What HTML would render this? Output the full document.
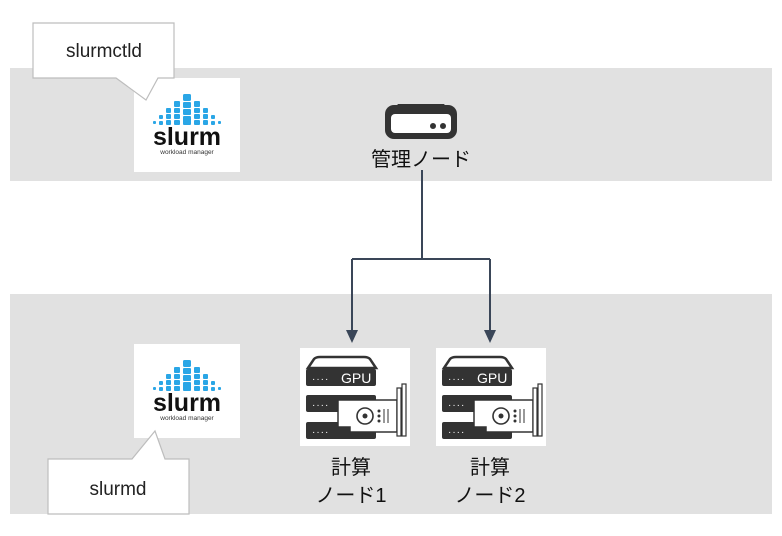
<!DOCTYPE html>
<html><head><meta charset="utf-8"><style>
html,body{margin:0;padding:0;background:#fff;}
svg{display:block;}
text{font-family:"Liberation Sans","Noto Sans CJK JP",sans-serif;}
</style></head><body>
<svg width="782" height="536" viewBox="0 0 782 536" xmlns="http://www.w3.org/2000/svg">
<defs>
<g id="logo">
  <rect x="0" y="0" width="106" height="94" fill="#fff"/>
  <g fill="#2aa6e6">
    <rect x="19" y="43" width="3" height="3" rx="1"/>
    <rect x="84" y="43" width="3" height="3" rx="1"/>
    <rect x="25" y="37" width="4" height="4" rx="1"/><rect x="25" y="43" width="4" height="4" rx="1"/>
    <rect x="77" y="37" width="4" height="4" rx="1"/><rect x="77" y="43" width="4" height="4" rx="1"/>
    <rect x="32" y="30" width="5" height="5" rx="1"/><rect x="32" y="36" width="5" height="5" rx="1"/><rect x="32" y="42" width="5" height="5" rx="1"/>
    <rect x="69" y="30" width="5" height="5" rx="1"/><rect x="69" y="36" width="5" height="5" rx="1"/><rect x="69" y="42" width="5" height="5" rx="1"/>
    <rect x="40" y="23" width="6" height="6" rx="1"/><rect x="40" y="30" width="6" height="5" rx="1"/><rect x="40" y="36" width="6" height="5" rx="1"/><rect x="40" y="42" width="6" height="5" rx="1"/>
    <rect x="60" y="23" width="6" height="6" rx="1"/><rect x="60" y="30" width="6" height="5" rx="1"/><rect x="60" y="36" width="6" height="5" rx="1"/><rect x="60" y="42" width="6" height="5" rx="1"/>
    <rect x="49" y="16" width="8" height="7" rx="1.5"/><rect x="49" y="24" width="8" height="6" rx="1"/><rect x="49" y="31" width="8" height="6" rx="1"/><rect x="49" y="38" width="8" height="9" rx="1"/>
  </g>
  <text x="53" y="67" font-size="25" font-weight="bold" text-anchor="middle" fill="#111">slurm</text>
  <text x="53" y="76" font-size="6.5" text-anchor="middle" fill="#333">workload manager</text>
</g>
<g id="gpu">
  <rect x="0" y="0" width="110" height="98" fill="#fff"/>
  <path d="M8 20 L14 11 Q16 9 20 9 L64 9 Q68 9 70 11 L76 20 Z" fill="#fff" stroke="#333" stroke-width="2.5"/>
  <rect x="6" y="21" width="70" height="17" rx="2" fill="#333"/>
  <text x="12" y="34" font-size="10" fill="#fff" letter-spacing="1">····</text>
  <text x="41" y="35" font-size="14" fill="#fff">GPU</text>
  <rect x="6" y="47" width="70" height="17" rx="2" fill="#333"/>
  <text x="12" y="60" font-size="10" fill="#fff" letter-spacing="1">····</text>
  <rect x="6" y="74" width="70" height="17" rx="2" fill="#333"/>
  <text x="12" y="87" font-size="10" fill="#fff" letter-spacing="1">····</text>
  <path d="M38 52 L97 52 L97 84 L50 84 L50 79 L38 79 Z" fill="#fff" stroke="#333" stroke-width="1.5"/>
  <rect x="97" y="40" width="4" height="48" fill="#fff" stroke="#333" stroke-width="1.2"/>
  <rect x="102" y="36" width="4" height="52" fill="#fff" stroke="#333" stroke-width="1.2"/>
  <circle cx="65" cy="68" r="8" fill="#fff" stroke="#333" stroke-width="1.6"/>
  <circle cx="65" cy="68" r="2.5" fill="#333"/>
  <circle cx="79" cy="63" r="1.5" fill="#333"/><circle cx="79" cy="68" r="1.5" fill="#333"/><circle cx="79" cy="73" r="1.5" fill="#333"/>
  <path d="M84 61 v14 M88 61 v14" stroke="#333" stroke-width="1"/>
</g>
</defs>
<rect x="10" y="68" width="762" height="113" fill="#e1e1e1"/>
<rect x="10" y="294" width="762" height="220" fill="#e1e1e1"/>
<use href="#logo" x="134" y="78"/>
<use href="#logo" x="134" y="344"/>
<path d="M33 23 H174 V78 H158 L146 100 L116 78 H33 Z" fill="#fff" stroke="#bdbdbd" stroke-width="1.2"/>
<text x="104" y="57" font-size="19" text-anchor="middle" fill="#222">slurmctld</text>
<path d="M48 459 H132 L155 431 L165 459 H189 V514 H48 Z" fill="#fff" stroke="#bdbdbd" stroke-width="1.2"/>
<text x="118" y="495" font-size="19" text-anchor="middle" fill="#222">slurmd</text>
<rect x="385" y="105" width="72" height="34" rx="9" fill="#333"/>
<path d="M388 116 L398 104 L444 104 L454 116 Z" fill="#333"/>
<rect x="391" y="114" width="60" height="19" rx="4" fill="#fff"/>
<circle cx="433" cy="126" r="3" fill="#333"/><circle cx="443" cy="126" r="3" fill="#333"/>
<text x="421" y="166" font-size="20" text-anchor="middle" fill="#111">管理ノード</text>
<path d="M422 170 V259 M352 259 H490 M352 259 V332 M490 259 V332" stroke="#3a4658" stroke-width="2" fill="none"/>
<path d="M346 330 L358 330 L352 343 Z M484 330 L496 330 L490 343 Z" fill="#3a4658"/>
<use href="#gpu" x="300" y="348"/>
<use href="#gpu" x="436" y="348"/>
<text x="351" y="474" font-size="20" text-anchor="middle" fill="#111">計算</text>
<text x="351" y="502" font-size="20" text-anchor="middle" fill="#111">ノード1</text>
<text x="490" y="474" font-size="20" text-anchor="middle" fill="#111">計算</text>
<text x="490" y="502" font-size="20" text-anchor="middle" fill="#111">ノード2</text>
</svg>
</body></html>
